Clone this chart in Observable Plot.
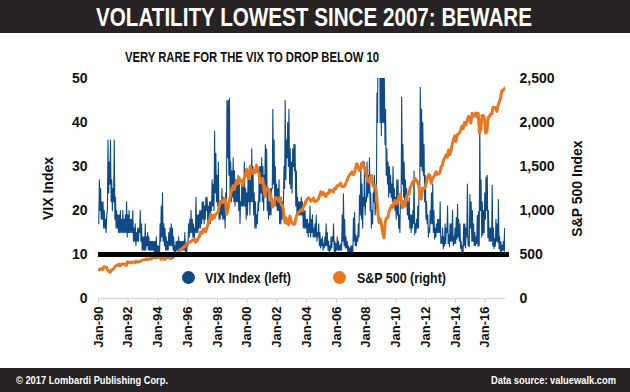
<!DOCTYPE html>
<html>
<head>
<meta charset="utf-8">
<script src="https://cdn.jsdelivr.net/npm/d3@7"></script>
<script src="https://cdn.jsdelivr.net/npm/@observablehq/plot@0.6"></script>
<style>
  html, body { margin: 0; padding: 0; background: white; }
  #root { position: relative; width: 630px; height: 392px; overflow: hidden; font-family: "Liberation Sans", Arial, sans-serif; }
  .band { position: absolute; left: 0; width: 630px; background: #272324; }
  .fit { position: absolute; white-space: nowrap; transform-origin: left center; font-weight: bold; }
  .narrow { font-family: "Liberation Sans Narrow", "Liberation Sans", Arial, sans-serif; }
  .dot { position: absolute; width: 13px; height: 13px; border-radius: 50%; }
  #chart { position: absolute; left: 0; top: 33px; }
</style>
</head>
<body>
<div id="root">
  <div class="band" style="top:0;height:33px;"></div>
  <div id="chart"></div>
  <div class="band" style="top:368px;height:24px;"></div>
</div>
<script>
// ---- Data (monthly, Jan 1990 .. May 2017) ----
const startYear = 1990;
const title = "VOLATILITY LOWEST SINCE 2007: BEWARE";
const subtitle = "VERY RARE FOR THE VIX TO DROP BELOW 10";
const seriesNames = ["VIX Index (left)", "S&P 500 (right)"];
const axisTitles = ["VIX Index", "S&P 500 Index"];
const footerLeft = "© 2017 Lombardi Publishing Corp.";
const footerRight = "Data source: valuewalk.com";
const tickYears = [1990,1992,1994,1996,1998,2000,2002,2004,2006,2008,2010,2012,2014,2016];
const leftTicks = [0,10,20,30,40,50];
const thresholdVix = 10;

// monthly low of VIX
const vixLow = [
17,20,18,18,16,16,15,20,24,26,22,20,
22,18,16,16,15,15,15,15,15,15,15,14,
15,15,15,15,13,13,12,13,13,15,13,11,
11,11,11,12,11,11,11,11,11,10,10,9.3,
9.9,10,13,14,13,12,11,11,11,12,12,12,
11,10,10.5,11,11,10.5,10,11,11,11,10.5,10.5,
12,14,15,15,14,13,15,15,15,16,16,17,
18,17,18,20,17,17,17,20,21,20,24,22,
21,18,18,19,18,18,16,20,32,28,24,22,
23,22,21,22,22,20,17,21,21,21,21,18,
19,22,19,22,22,19,16,16,17,20,22,24,
22,20,26,24,20,18,19,19,25,26,22,21,
20,20,17,17,18,21,25,27,32,30,26,25,
24,30,29,21,19,19,19,19,19,16,16,16,
15,14,15,14,15,14,14,14,13,14,12,11.5,
12,11,11.5,12,12,11,10.5,11,11.5,13,10.5,10.5,
11,11,11,11,11,13,12,11.5,11.5,10.5,10,10,
10,10,13,12,12,13,14,19,18,16,21,19,
22,23,24,20,16,17,22,19,22,40,55,40,
37,40,40,35,28,26,23,24,23,22,21,20,
18,19,16,15,21,26,23,21,21,19,18,16,
15,16,17,14.5,15,16,16,24,30,29,28,22,
18,17,14,15,17,17,15,13.5,14,15,15,15,
12.5,12.5,11.3,12,12.5,15,12.5,11.8,13,13,12,12.5,
12.5,13.5,14,13,11.4,10.6,10.3,12,11.5,14,12,11.8,
16,13,13,12,12,12.5,11.9,12,20,14,14.5,15,
18,20,13.8,13,13,13,11.9,11.3,11.9,13,12.8,11.3,
10.6,10.6,11,10.8,9.8
];
// monthly high of VIX
const vixHigh = [
27,25,22,22,20,18,19,36,31,36,27,25,
36,23,20,19,19,20,18,20,18,19,22,19,
20,18,18,20,16,17,15,16,16,20,17,14,
14,17,14,15,14,13,13,13,13,13,14,12,
12,17,21,24,17,16,14,13,15,16,17,16,
14,12,13,13,14,13,13,13,13,15,12,13,
17,18,20,18,17,16,23,19,19,20,20,22,
22,21,23,23,21,22,22,27,26,38,33,28,
31,21,21,25,23,22,24,45,45,45.5,31,29,
32,29,27,27,28,26,22,27,27,31,25,24,
28,27,27,34,30,24,22,19,22,30,30,32,
30,28,35,34,25,22,25,25,43,36,30,26,
25,27,21,23,22,30,45,36,40,43,34,31,
34,35,35,29,23,22,22,23,22,20,20,18,
18,17,21,18,19,16,17,19,15,17,15,13.5,
14,12.5,14,17,15,13,12,14,14,17,13,12.5,
14,13,12,12.5,19,23.8,18,14,13,12,11.5,12,
12,18.3,19.6,14.5,14,17,23.5,30.8,26,23,31,23,
31,28,32,24,20,24,28,22,46.7,80,80,60,
56,53,50,43,34,31,30,28,26,30,25,23,
27,27,19,23,45.8,35,31,27,25,22,23,19,
19,20,29,17,18,21,25,48,43,40,35,28,
22,19,16,20,24,26,20,16,17,18,18,22,
14,16,14,17,16,21,14.5,17,17,20,14,16,
18.4,21.4,18,17,13,12,16.9,17,16,26,14,23.6,
22,20,17,15,14,18.9,19.7,39,27,22,20,24,
27.6,28,20,16,16,25.8,16,13.6,18,17,22.5,14,
12.9,12.1,13,15.9,10.6
];
// S&P 500, monthly level
const spx = [
329,331,340,331,361,358,356,323,306,300,322,330,
344,367,375,375,390,371,388,395,388,392,375,417,
409,413,404,415,415,408,424,414,418,419,431,436,
439,443,452,440,450,451,448,464,459,468,462,466,
482,467,446,451,457,444,458,475,463,472,454,459,
470,487,501,515,533,545,562,562,584,582,605,616,
636,640,646,654,669,671,640,652,687,705,757,741,
786,791,757,801,848,885,954,899,947,915,955,970,
980,1049,1102,1112,1091,1134,1121,957,1017,1099,1164,1229,
1280,1238,1286,1335,1302,1373,1329,1320,1283,1363,1389,1469,
1394,1366,1499,1452,1421,1455,1431,1518,1437,1429,1315,1320,
1366,1240,1160,1249,1256,1224,1211,1134,1041,1060,1139,1148,
1130,1107,1147,1077,1067,990,860,916,850,840,936,880,
856,841,848,917,964,975,990,1008,996,1051,1058,1112,
1131,1145,1126,1107,1121,1141,1102,1104,1115,1130,1174,1212,
1181,1204,1181,1157,1192,1191,1234,1220,1229,1207,1249,1248,
1280,1281,1295,1311,1270,1270,1277,1304,1336,1378,1401,1418,
1438,1407,1421,1482,1531,1503,1455,1474,1527,1549,1481,1468,
1379,1331,1323,1386,1400,1280,1267,1283,1166,969,860,903,
826,735,690,873,919,919,987,1021,1057,1036,1096,1115,
1074,1104,1169,1187,1089,1031,1102,1049,1141,1183,1181,1258,
1286,1327,1326,1364,1345,1321,1292,1150,1131,1253,1247,1258,
1312,1366,1408,1398,1310,1362,1379,1407,1441,1412,1416,1426,
1498,1515,1569,1598,1631,1606,1686,1633,1682,1757,1806,1848,
1783,1859,1872,1884,1924,1960,1931,2003,1972,2018,2068,2059,
1995,2105,2068,2086,2107,2063,2104,1880,1920,2079,2080,2044,
1880,1900,2060,2065,2097,2099,2174,2171,2168,2126,2199,2239,
2279,2364,2363,2384,2395
];

const rightScale = 50; // 2,500 on the right axis = 50 on the left

// ---- Build tables ----
const vixPts = [];
vixLow.forEach((lo, i) => {
  const y = startYear + Math.floor(i / 12), m = i % 12;
  vixPts.push({date: new Date(Date.UTC(y, m, 8)), v: lo});
  vixPts.push({date: new Date(Date.UTC(y, m, 22)), v: vixHigh[i]});
});
const spxPts = spx.map((v, i) => ({
  date: new Date(Date.UTC(startYear + Math.floor(i / 12), i % 12, 15)), v
}));
const tickDates = tickYears.map(y => new Date(Date.UTC(y, 0, 1)));

const BLUE = "#0d4a86", ORANGE = "#e8771f";

const chart = Plot.plot({
  width: 630,
  height: 335,
  marginTop: 45,
  marginBottom: 70,
  marginLeft: 98,
  marginRight: 125,
  style: {fontFamily: "'Liberation Sans', Arial, sans-serif", fontSize: "14px", fontWeight: "bold", color: "#111", background: "white"},
  x: {type: "utc", domain: [new Date(Date.UTC(1990, 0, 1)), new Date(Date.UTC(2017, 4, 15))]},
  y: {domain: [0, 50]},
  marks: [
    Plot.ruleY([0], {stroke: "#d9d9d9", strokeWidth: 1.5}),
    Plot.axisX({ticks: tickDates, tickFormat: d => "Jan-" + String(d.getUTCFullYear()).slice(2),
      tickRotate: -90, tickSize: 5, tickPadding: 3, stroke: "#d0d0d0", fill: "#111",
      fontSize: 13, fontWeight: "bold", label: null}),
    Plot.axisY({anchor: "left", ticks: leftTicks, tickSize: 0, tickPadding: 11,
      label: axisTitles[0], labelAnchor: "center", labelOffset: 55, labelArrow: false,
      fontSize: 14, fontWeight: "bold", fill: "#111"}),
    Plot.axisY({anchor: "right", ticks: leftTicks, tickFormat: d => d3.format(",")(d * rightScale),
      tickSize: 0, tickPadding: 14,
      label: axisTitles[1], labelAnchor: "center", labelOffset: 76, labelArrow: false,
      fontSize: 14, fontWeight: "bold", fill: "#111"}),
    Plot.line(vixPts, {x: "date", y: "v", stroke: BLUE, strokeWidth: 1.1, clip: true}),
    Plot.line(spxPts, {x: "date", y: d => d.v / rightScale, stroke: ORANGE, strokeWidth: 3, clip: true}),
    Plot.ruleY([thresholdVix], {stroke: "black", strokeWidth: 5, insetRight: -4})
  ]
});
document.getElementById("chart").appendChild(chart);

// ---- HTML text (title, subtitle, legend, footer) ----
const root = document.getElementById("root");
function addText(txt, left, cy, size, width, color, cls) {
  const el = document.createElement("div");
  el.className = "fit " + (cls || "");
  el.textContent = txt;
  el.style.left = left + "px";
  el.style.top = (cy - size / 2) + "px";
  el.style.fontSize = size + "px";
  el.style.lineHeight = size + "px";
  el.style.color = color;
  root.appendChild(el);
  const w = el.getBoundingClientRect().width;
  el.style.transform = `scaleX(${width / w})`;
  return el;
}
function addDot(cx, cy, color) {
  const d = document.createElement("div");
  d.className = "dot";
  d.style.left = (cx - 6.5) + "px";
  d.style.top = (cy - 6.5) + "px";
  d.style.background = color;
  root.appendChild(d);
}
addText(title, 96, 16.5, 26, 436, "white", "narrow");
addText(subtitle, 125, 57, 14, 254, "#111", "narrow");
addDot(188, 277, BLUE);
addText(seriesNames[0], 205, 277, 15, 86, "#111", "narrow");
addDot(339, 277, ORANGE);
addText(seriesNames[1], 357, 277, 15, 89, "#111", "narrow");
addText(footerLeft, 16, 380, 11, 152, "white", "");
addText(footerRight, 491, 380, 11, 125, "white", "");
</script>
</body>
</html>
